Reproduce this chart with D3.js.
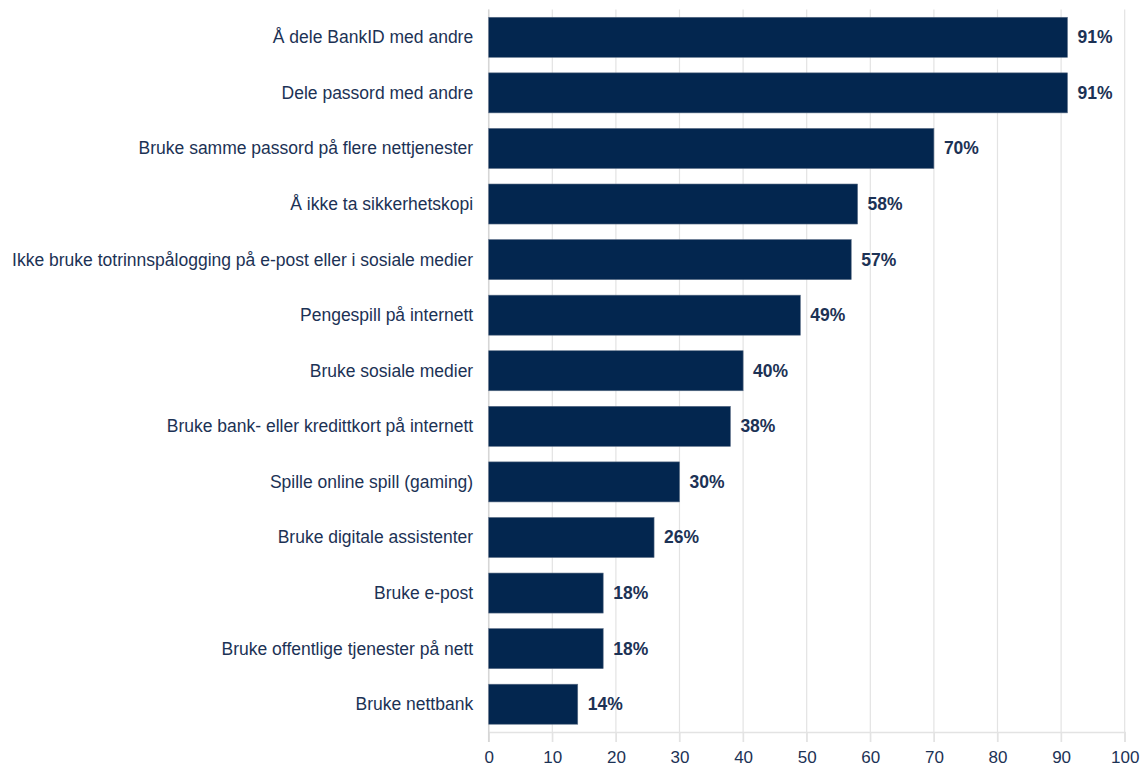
<!DOCTYPE html>
<html><head><meta charset="utf-8">
<script src="https://cdn.jsdelivr.net/npm/d3@7"></script>
<style>
body{margin:0;background:#fff;}
svg text{font-family:"Liberation Sans",Arial,Helvetica,sans-serif;}
</style></head>
<body><svg id="chart" width="1142" height="767"></svg>
<script>
const categories = [
  "Å dele BankID med andre",
  "Dele passord med andre",
  "Bruke samme passord på flere nettjenester",
  "Å ikke ta sikkerhetskopi",
  "Ikke bruke totrinnspålogging på e-post eller i sosiale medier",
  "Pengespill på internett",
  "Bruke sosiale medier",
  "Bruke bank- eller kredittkort på internett",
  "Spille online spill (gaming)",
  "Bruke digitale assistenter",
  "Bruke e-post",
  "Bruke offentlige tjenester på nett",
  "Bruke nettbank"
];
const values = [91, 91, 70, 58, 57, 49, 40, 38, 30, 26, 18, 18, 14];
const xTicks = [0,10,20,30,40,50,60,70,80,90,100];

const svg = d3.select("#chart");
const mLeft = 488.7, mRight = 1124.7, mTop = 9.5, mBottom = 732;
const textColor = "#1c3255", barColor = "#03264f";

const x = d3.scaleLinear().domain([0,100]).range([mLeft,mRight]);
const y = d3.scaleBand().domain(categories).range([mTop,mBottom]).paddingInner(0.28).paddingOuter(0.14);

// gridlines
svg.append("g").selectAll("line").data(xTicks).join("line")
  .attr("x1", d=>x(d)).attr("x2", d=>x(d))
  .attr("y1", mTop).attr("y2", mBottom+10)
  .attr("stroke", "#e3e3e3").attr("stroke-width", 1.2);

// x axis
const xAxis = svg.append("g").attr("transform", `translate(0,${mBottom})`)
  .call(d3.axisBottom(x).tickValues(xTicks).tickSize(10).tickPadding(9));
xAxis.select(".domain").attr("stroke", "#e3e3e3").attr("stroke-width", 1.5);
xAxis.selectAll(".tick line").attr("stroke", "#e3e3e3").attr("stroke-width", 1.2);
xAxis.selectAll("text").attr("fill", textColor).attr("font-size", 17)
  .style("font-family", '"Liberation Sans",Arial,sans-serif');

// zero line
svg.append("line").attr("x1", x(0)).attr("x2", x(0)).attr("y1", mTop).attr("y2", mBottom+10)
  .attr("stroke", "#d6d6d6").attr("stroke-width", 1.5);

// bars
svg.append("g").selectAll("rect").data(values).join("rect")
  .attr("x", x(0)).attr("y", (d,i)=>y(categories[i]))
  .attr("width", d=>x(d)-x(0)).attr("height", y.bandwidth())
  .attr("fill", barColor).attr("stroke", "#5a6d86").attr("stroke-width", 0.6);

// category labels
svg.append("g").selectAll("text").data(categories).join("text")
  .attr("x", mLeft-15.5).attr("y", d=>y(d)+y.bandwidth()/2)
  .attr("text-anchor", "end").attr("dominant-baseline", "central")
  .attr("fill", textColor).attr("font-size", 17.5).text(d=>d);

// value labels
svg.append("g").selectAll("text").data(values).join("text")
  .attr("x", d=>x(d)+10).attr("y", (d,i)=>y(categories[i])+y.bandwidth()/2)
  .attr("dominant-baseline", "central")
  .attr("fill", textColor).attr("font-size", 17.5).attr("font-weight", "bold")
  .text(d=>d+"%");
</script></body></html>
